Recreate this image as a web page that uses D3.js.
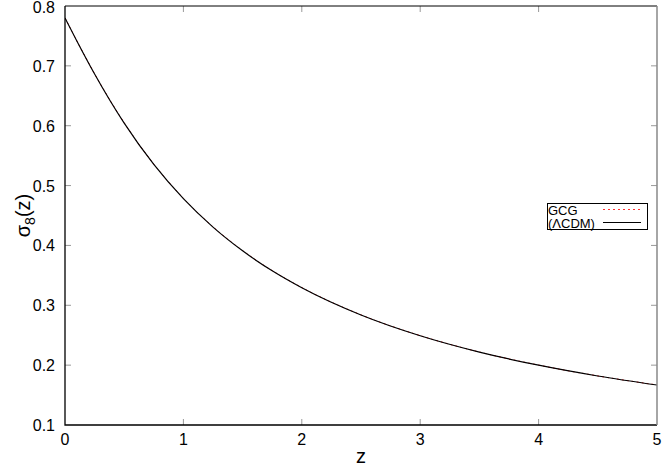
<!DOCTYPE html>
<html><head><meta charset="utf-8">
<script src="https://cdn.jsdelivr.net/npm/d3@7"></script>
<style>body{margin:0;background:#fff}svg{display:block;font-family:"Liberation Sans",Arial,sans-serif}</style>
</head><body><svg id="c" width="664" height="466"></svg>
<script>
const zValues = [0, 0.1, 0.25, 0.5, 0.75, 1, 1.25, 1.5, 1.75, 2, 2.5, 3, 3.5, 4, 4.5, 5];
const lcdm = [0.780, 0.7416, 0.6864, 0.6043, 0.5353, 0.4781, 0.4306, 0.3910, 0.3576, 0.3293, 0.2838, 0.2491, 0.2218, 0.1999, 0.1819, 0.1668];
const gcg  = [0.780, 0.7418, 0.6868, 0.6049, 0.5359, 0.4787, 0.4311, 0.3914, 0.3579, 0.3296, 0.2840, 0.2493, 0.2219, 0.2000, 0.1820, 0.1669];
const xTicks = [0, 1, 2, 3, 4, 5];
const yTicks = [0.1, 0.2, 0.3, 0.4, 0.5, 0.6, 0.7, 0.8];
const legendLabels = ["GCG", "(\u039BCDM)"];

const svg = d3.select("#c");
const L = 65, R = 657, T = 6, B = 425;
const x = d3.scaleLinear().domain([0, 5]).range([L, R]);
const y = d3.scaleLinear().domain([0.1, 0.8]).range([B, T]);

// ticks (inward, mirrored)
const tk = svg.append("g").attr("stroke", "#999").attr("stroke-width", 1);
xTicks.slice(1, -1).forEach(v => {
  tk.append("line").attr("x1", x(v)).attr("x2", x(v)).attr("y1", B).attr("y2", B - 6);
  tk.append("line").attr("x1", x(v)).attr("x2", x(v)).attr("y1", T).attr("y2", T + 6);
});
yTicks.slice(1, -1).forEach(v => {
  tk.append("line").attr("y1", y(v)).attr("y2", y(v)).attr("x1", L).attr("x2", L + 6);
  tk.append("line").attr("y1", y(v)).attr("y2", y(v)).attr("x1", R).attr("x2", R - 6);
});

// labels
const fs = 16;
xTicks.forEach(v => svg.append("text").attr("x", x(v)).attr("y", 445).attr("text-anchor", "middle")
  .attr("font-size", fs).attr("fill", "#000").text(d3.format("d")(v)));
yTicks.forEach(v => svg.append("text").attr("x", 55).attr("y", Math.max(y(v) + 6, 13)).attr("text-anchor", "end")
  .attr("font-size", fs).attr("fill", "#000").text(d3.format(".1f")(v)));

svg.append("text").attr("x", x(2.5)).attr("y", 463).attr("text-anchor", "middle").attr("font-size", 20).text("z");
const yl = svg.append("text").attr("transform", "translate(30," + ((T + B) / 2) + ") rotate(-90)")
  .attr("text-anchor", "middle").attr("font-size", 20);
yl.append("tspan").text("\u03C3");
yl.append("tspan").attr("font-size", 14).attr("dy", 5).text("8");
yl.append("tspan").attr("dy", -5).text("(z)");

// curves
const line = d3.line().x((d, i) => x(zValues[i])).y(d => y(d)).curve(d3.curveMonotoneX);
svg.append("clipPath").attr("id", "pc").append("rect").attr("x", L).attr("y", T).attr("width", R - L).attr("height", B - T);
svg.append("path").datum(gcg).attr("d", line).attr("fill", "none").attr("stroke", "#e0242a")
  .attr("stroke-width", 1).attr("stroke-dasharray", "2,3").attr("clip-path", "url(#pc)");
svg.append("path").datum(lcdm).attr("d", line).attr("fill", "none").attr("stroke", "#000")
  .attr("stroke-width", 1.2).attr("clip-path", "url(#pc)");

// frame
svg.append("path").attr("d", `M${L},${T}H${R}`).attr("stroke", "#000").attr("fill", "none");
svg.append("path").attr("d", `M${L},${T}V${B}H${R}`).attr("stroke", "#000").attr("stroke-width", 1.3).attr("fill", "none");
svg.append("path").attr("d", `M${R},${T}V${B}`).attr("stroke", "#888").attr("stroke-width", 1.5).attr("fill", "none");

// legend
const lg = svg.append("g");
lg.append("rect").attr("x", 547.5).attr("y", 203.5).attr("width", 100).attr("height", 26)
  .attr("fill", "#fff").attr("stroke", "#000").attr("stroke-width", 1);
lg.append("text").attr("x", 548).attr("y", 214.5).attr("font-size", 13).text(legendLabels[0]);
lg.append("text").attr("x", 548).attr("y", 227.5).attr("font-size", 13).text(legendLabels[1]);
lg.append("line").attr("x1", 603).attr("x2", 641).attr("y1", 209.5).attr("y2", 209.5)
  .attr("stroke", "#ff3030").attr("stroke-dasharray", "2,3");
lg.append("line").attr("x1", 603).attr("x2", 641).attr("y1", 222.5).attr("y2", 222.5).attr("stroke", "#000");
</script></body></html>
